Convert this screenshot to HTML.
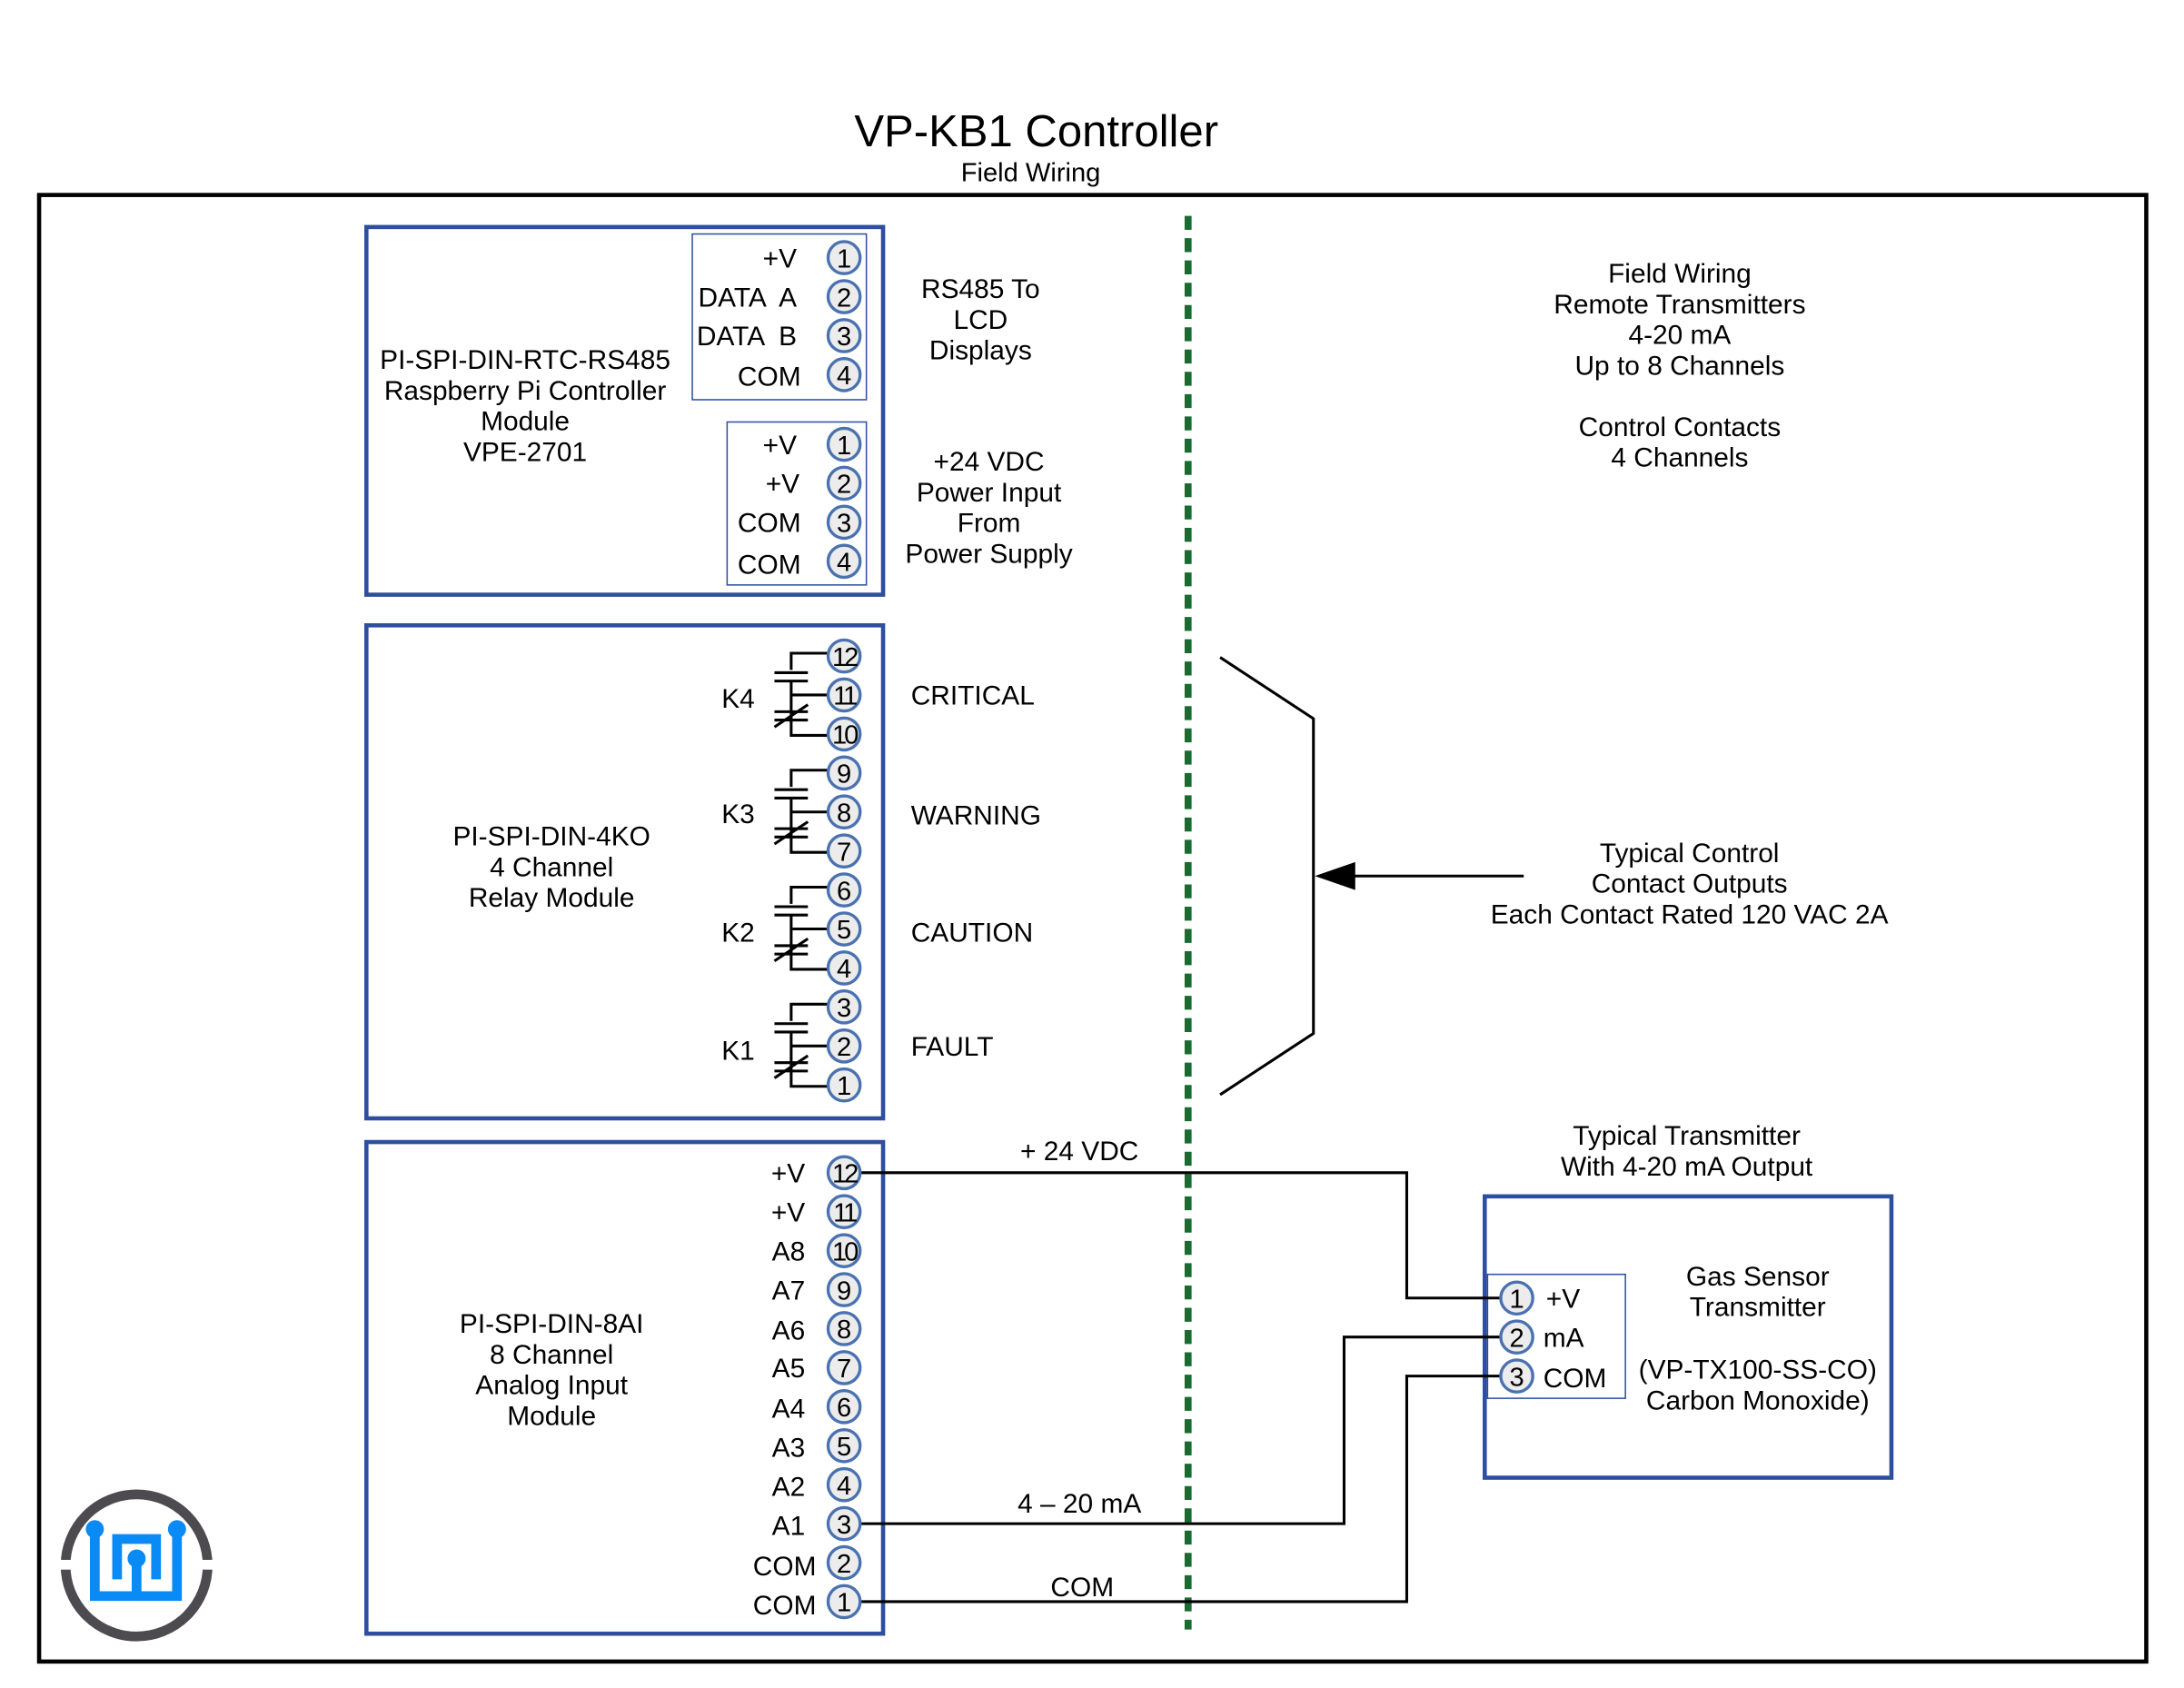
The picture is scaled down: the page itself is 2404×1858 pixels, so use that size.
<!DOCTYPE html>
<html><head><meta charset="utf-8"><style>html,body{margin:0;padding:0;background:#fff}svg{display:block}text{font-family:"Liberation Sans",sans-serif;fill:#000;white-space:pre}</style></head>
<body>
<svg width="2404" height="1858" viewBox="0 0 1568 1212" xmlns="http://www.w3.org/2000/svg">
<defs>
<g id="relay" stroke="#000" stroke-width="2" fill="none">
<path d="M594,-2 H568 V10"/><path d="M568,18 V57 H594"/>
<path d="M556,12 H580 M556,18 H580"/>
<path d="M568,28 H594"/>
<path d="M556,40 H580 M556,46 H580 M556,51 L580,35"/>
</g>
</defs>
<text x="744" y="105" font-size="32" text-anchor="middle">VP-KB1 Controller</text>
<text x="740" y="130" font-size="19" text-anchor="middle">Field Wiring</text>
<rect x="28" y="140" width="1513" height="1053" fill="none" stroke="#000" stroke-width="3"/>
<line x1="853" y1="155" x2="853" y2="1170" stroke="#1a6b30" stroke-width="5" stroke-dasharray="10 6"/>

<g fill="none" stroke="#2e4fa0">
<rect x="263" y="163" width="371" height="264" stroke-width="3"/>
<rect x="497" y="168" width="125" height="119" stroke-width="1"/>
<rect x="522" y="303" width="100" height="117" stroke-width="1"/>
<rect x="263" y="449" width="371" height="354" stroke-width="3"/>
<rect x="263" y="820" width="371" height="353" stroke-width="3"/>
<rect x="1066" y="859" width="292" height="202" stroke-width="3"/>
<rect x="1068" y="915" width="99" height="89" stroke-width="1"/>
</g>

<g font-size="19.5" text-anchor="middle">
<text x="377" y="265">PI-SPI-DIN-RTC-RS485</text>
<text x="377" y="287">Raspberry Pi Controller</text>
<text x="377" y="309">Module</text>
<text x="377" y="331">VPE-2701</text>
<text x="704" y="214">RS485 To</text>
<text x="704" y="236">LCD</text>
<text x="704" y="258">Displays</text>
<text x="710" y="338">+24 VDC</text>
<text x="710" y="360">Power Input</text>
<text x="710" y="382">From</text>
<text x="710" y="404">Power Supply</text>
<text x="1206" y="203">Field Wiring</text>
<text x="1206" y="225">Remote Transmitters</text>
<text x="1206" y="247">4-20 mA</text>
<text x="1206" y="269">Up to 8 Channels</text>
<text x="1206" y="313">Control Contacts</text>
<text x="1206" y="335">4 Channels</text>
<text x="396" y="607">PI-SPI-DIN-4KO</text>
<text x="396" y="629">4 Channel</text>
<text x="396" y="651">Relay Module</text>
<text x="1213" y="619">Typical Control</text>
<text x="1213" y="641">Contact Outputs</text>
<text x="1213" y="663">Each Contact Rated 120 VAC 2A</text>
<text x="396" y="957">PI-SPI-DIN-8AI</text>
<text x="396" y="979">8 Channel</text>
<text x="396" y="1001">Analog Input</text>
<text x="396" y="1023">Module</text>
<text x="1211" y="822">Typical Transmitter</text>
<text x="1211" y="844">With 4-20 mA Output</text>
<text x="1262" y="923">Gas Sensor</text>
<text x="1262" y="945">Transmitter</text>
<text x="1262" y="990">(VP-TX100-SS-CO)</text>
<text x="1262" y="1012">Carbon Monoxide)</text>
<text x="775" y="833">+ 24 VDC</text>
<text x="775" y="1086">4 – 20 mA</text>
<text x="777" y="1146">COM</text>
</g>

<g font-size="19.5" text-anchor="end">
<text x="572" y="192">+V</text>
<text x="572" y="220">DATA  A</text>
<text x="572" y="248">DATA  B</text>
<text x="575" y="277">COM</text>
<text x="572" y="326">+V</text>
<text x="574" y="354">+V</text>
<text x="575" y="382">COM</text>
<text x="575" y="412">COM</text>
<text x="578" y="849">+V</text>
<text x="578" y="877">+V</text>
<text x="578" y="905">A8</text>
<text x="578" y="933">A7</text>
<text x="578" y="962">A6</text>
<text x="578" y="989">A5</text>
<text x="578" y="1018">A4</text>
<text x="578" y="1046">A3</text>
<text x="578" y="1074">A2</text>
<text x="578" y="1102">A1</text>
<text x="586" y="1131">COM</text>
<text x="586" y="1159">COM</text>
</g>
<g font-size="19.5">
<text x="518" y="508">K4</text><text x="518" y="591">K3</text><text x="518" y="676">K2</text><text x="518" y="761">K1</text>
<text x="654" y="506">CRITICAL</text><text x="654" y="592">WARNING</text><text x="654" y="676">CAUTION</text><text x="654" y="758">FAULT</text>
<text x="1110" y="939">+V</text><text x="1108" y="967">mA</text><text x="1108" y="996">COM</text>
</g>

<use href="#relay" transform="translate(0,471)"/>
<use href="#relay" transform="translate(0,555)"/>
<use href="#relay" transform="translate(0,639)"/>
<use href="#relay" transform="translate(0,723)"/>

<g stroke="#000" stroke-width="2" fill="none">
<path d="M876,472 L943,516 V742 L876,786"/>
<path d="M1094,629 H970"/>
<path d="M617,842 H1010 V932 H1078"/>
<path d="M617,1094 H965 V960 H1078"/>
<path d="M617,1150 H1010 V988 H1078"/>
</g>
<polygon points="944,629 973,619 973,639" fill="#000"/>

<g fill="#ececec" stroke="#4a72b0" stroke-width="2.2">
<circle cx="606" cy="185" r="11.5"/><circle cx="606" cy="213" r="11.5"/><circle cx="606" cy="241" r="11.5"/><circle cx="606" cy="269" r="11.5"/>
<circle cx="606" cy="319" r="11.5"/><circle cx="606" cy="347" r="11.5"/><circle cx="606" cy="375" r="11.5"/><circle cx="606" cy="403" r="11.5"/>
<circle cx="606" cy="471" r="11.5"/><circle cx="606" cy="499" r="11.5"/><circle cx="606" cy="527" r="11.5"/><circle cx="606" cy="555" r="11.5"/><circle cx="606" cy="583" r="11.5"/><circle cx="606" cy="611" r="11.5"/><circle cx="606" cy="639" r="11.5"/><circle cx="606" cy="667" r="11.5"/><circle cx="606" cy="695" r="11.5"/><circle cx="606" cy="723" r="11.5"/><circle cx="606" cy="751" r="11.5"/><circle cx="606" cy="779" r="11.5"/>
<circle cx="606" cy="842" r="11.5"/><circle cx="606" cy="870" r="11.5"/><circle cx="606" cy="898" r="11.5"/><circle cx="606" cy="926" r="11.5"/><circle cx="606" cy="954" r="11.5"/><circle cx="606" cy="982" r="11.5"/><circle cx="606" cy="1010" r="11.5"/><circle cx="606" cy="1038" r="11.5"/><circle cx="606" cy="1066" r="11.5"/><circle cx="606" cy="1094" r="11.5"/><circle cx="606" cy="1122" r="11.5"/><circle cx="606" cy="1150" r="11.5"/>
<circle cx="1089" cy="932" r="11.5"/><circle cx="1089" cy="960" r="11.5"/><circle cx="1089" cy="988" r="11.5"/>
</g>
<g font-size="19" text-anchor="middle">
<text x="606" y="192">1</text><text x="606" y="220">2</text><text x="606" y="248">3</text><text x="606" y="276">4</text>
<text x="606" y="326">1</text><text x="606" y="354">2</text><text x="606" y="382">3</text><text x="606" y="410">4</text>
<text x="606" y="478" letter-spacing="-2">12</text><text x="606" y="506" letter-spacing="-2">11</text><text x="606" y="534" letter-spacing="-2">10</text><text x="606" y="562">9</text><text x="606" y="590">8</text><text x="606" y="618">7</text><text x="606" y="646">6</text><text x="606" y="674">5</text><text x="606" y="702">4</text><text x="606" y="730">3</text><text x="606" y="758">2</text><text x="606" y="786">1</text>
<text x="606" y="849" letter-spacing="-2">12</text><text x="606" y="877" letter-spacing="-2">11</text><text x="606" y="905" letter-spacing="-2">10</text><text x="606" y="933">9</text><text x="606" y="961">8</text><text x="606" y="989">7</text><text x="606" y="1017">6</text><text x="606" y="1045">5</text><text x="606" y="1073">4</text><text x="606" y="1101">3</text><text x="606" y="1129">2</text><text x="606" y="1157">1</text>
<text x="1089" y="939">1</text><text x="1089" y="967">2</text><text x="1089" y="995">3</text>
</g>

<!-- logo -->
<circle cx="98" cy="1124" r="51" fill="none" stroke="#4d4b50" stroke-width="7"/>
<rect x="40" y="1120" width="16" height="7" fill="#fff"/>
<rect x="140" y="1120" width="16" height="7" fill="#fff"/>
<g stroke="#0a8af5" stroke-width="7" fill="none">
<path d="M68,1100 V1146 H127 V1100"/>
<path d="M84,1134 V1105 H112 V1134"/>
<path d="M98,1120 V1146"/>
</g>
<g fill="#0a8af5"><circle cx="68" cy="1098" r="6.5"/><circle cx="127" cy="1098" r="6.5"/><circle cx="98" cy="1119" r="6.5"/></g>
</svg>
</body></html>
